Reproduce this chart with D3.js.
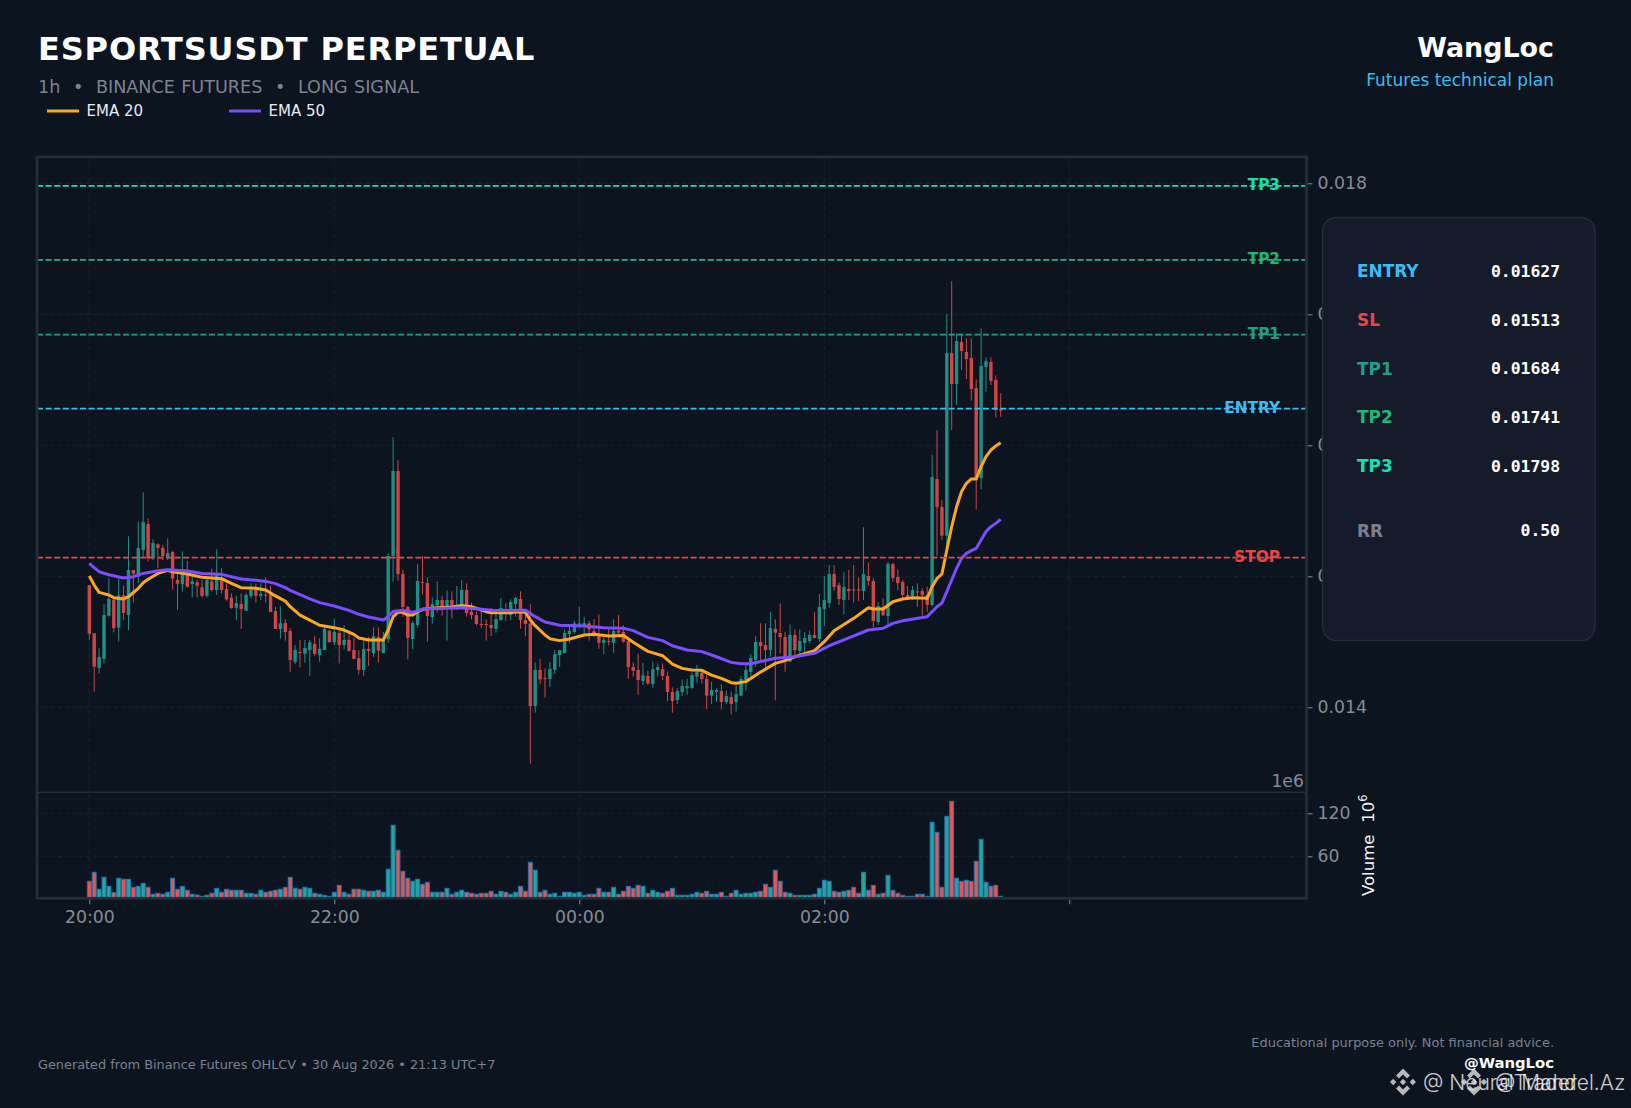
<!DOCTYPE html>
<html>
<head>
<meta charset="utf-8">
<style>
html, body { margin: 0; padding: 0; background: #0c1420; }
svg { display: block; }
text { font-family: "DejaVu Sans", sans-serif; }
</style>
<script src="https://cdn.jsdelivr.net/npm/d3@7"></script>
</head>
<body>
<div id="chart"></div>
<script>
// prices are in 1e-6 USDT, volumes in 1e6 contracts
const opens = [14933,14565,14300,14371,14699,14819,14608,14855,14704,15048,14997,15201,15399,15145,15244,15216,15145,15185,14972,14941,15010,14941,14954,14916,14852,14961,14895,14972,14903,14837,14760,14788,14737,14850,14908,14850,14860,14867,14735,14598,14643,14582,14346,14422,14409,14437,14483,14399,14437,14582,14496,14567,14475,14514,14437,14376,14285,14445,14414,14537,14414,14521,15155,15804,15017,14766,14521,14628,14956,14949,14689,14778,14819,14755,14819,14753,14781,14895,14730,14704,14636,14636,14628,14598,14666,14732,14704,14788,14827,14666,14641,14010,14285,14224,14216,14285,14399,14414,14559,14575,14620,14623,14641,14582,14552,14491,14506,14493,14585,14575,14506,14308,14285,14201,14239,14178,14285,14292,14239,14117,14056,14117,14145,14147,14234,14264,14216,14089,14117,14124,14040,14078,14040,14089,14206,14269,14361,14498,14475,14437,14598,14567,14537,14348,14552,14430,14491,14506,14552,14521,14750,14796,15017,14933,14819,14903,14900,14900,14888,15002,14964,14651,14766,14697,15094,14995,14956,14857,14850,14885,14888,14857,14781,15743,15529,15310,16704,16468,16788,16712,16666,16437,15750,16598,16636,16498,16274]
const highs = [14933,14565,14450,14786,14984,14844,14984,14928,15305,15048,15419,15641,15442,15282,15251,15239,15290,15193,15022,15190,15119,15010,14972,14972,14977,15058,15206,15061,14946,14870,14852,14870,14875,14946,14946,14946,14992,14928,14768,14773,14671,14603,14475,14514,14514,14514,14544,14526,14615,14590,14679,14595,14628,14590,14534,14437,14509,14539,14610,14610,14575,15175,16061,15888,15053,14773,14659,15094,15155,14992,14839,14961,14852,14893,14885,14926,14972,14946,14799,14730,14737,14671,14760,14743,14834,14793,14824,14844,14885,14730,14786,14343,14369,14297,14346,14437,14437,14595,14615,14659,14766,14692,14659,14674,14710,14539,14598,14671,14702,14626,14539,14343,14412,14338,14279,14351,14335,14335,14272,14152,14145,14213,14218,14264,14323,14285,14246,14196,14145,14175,14127,14119,14170,14239,14341,14407,14544,14641,14641,14727,14671,14793,14575,14633,14595,14595,14575,14585,14727,14865,15002,15086,15086,14954,15033,15048,15086,14992,15374,15106,14984,14801,14832,15109,15104,15053,14972,14926,14926,14946,14908,14921,15926,16117,15582,17002,17252,16855,16855,16816,16816,16503,16893,16671,16671,16534,16397]
const lows = [14514,14119,14259,14335,14692,14572,14501,14666,14590,14799,14946,15137,15112,15124,15061,15124,15124,14900,14743,14883,14913,14839,14839,14839,14839,14883,14857,14870,14814,14753,14666,14598,14735,14832,14799,14819,14799,14727,14598,14524,14509,14272,14330,14305,14341,14241,14391,14348,14437,14493,14475,14335,14442,14427,14366,14251,14241,14315,14386,14341,14414,14493,14959,14967,14692,14366,14445,14608,14860,14501,14638,14722,14699,14509,14677,14743,14748,14692,14671,14623,14603,14509,14544,14570,14661,14661,14666,14692,14600,14544,13570,13959,14178,14073,14157,14254,14310,14412,14488,14559,14603,14565,14509,14534,14447,14407,14473,14417,14539,14493,14218,14234,14096,14170,14170,14150,14234,14208,14048,13959,14025,14086,14094,14142,14188,14183,13984,14025,14043,13984,14025,13946,13967,14089,14127,14234,14310,14361,14305,14386,14053,14412,14272,14346,14399,14407,14407,14488,14526,14501,14620,14760,14890,14781,14710,14819,14799,14811,14819,14926,14608,14628,14697,14628,14956,14895,14824,14819,14819,14768,14699,14730,14768,15157,15277,15226,16117,16308,16575,16506,16341,15511,15666,16409,16460,16211,16218]
const closes = [14562,14310,14384,14704,14827,14605,14855,14720,15048,15020,15216,15414,15137,15254,15216,15155,15178,14982,14944,15022,14921,14961,14928,14850,14972,14895,15010,14895,14824,14758,14796,14750,14857,14895,14852,14865,14855,14727,14598,14641,14575,14361,14437,14417,14453,14496,14407,14447,14598,14498,14575,14475,14514,14430,14369,14285,14445,14430,14544,14432,14521,15155,15804,15017,14766,14529,14643,14964,14951,14697,14788,14819,14743,14819,14750,14781,14895,14720,14704,14636,14631,14631,14605,14674,14758,14722,14804,14834,14666,14636,14010,14285,14213,14218,14292,14407,14437,14567,14585,14641,14641,14643,14595,14552,14493,14514,14501,14582,14570,14501,14308,14279,14208,14244,14183,14290,14308,14239,14117,14048,14124,14162,14162,14246,14269,14216,14089,14132,14132,14040,14086,14025,14101,14216,14285,14376,14498,14468,14437,14605,14570,14537,14386,14552,14437,14506,14529,14552,14529,14766,14819,15017,14918,14827,14918,14888,14895,14895,15017,14964,14659,14773,14704,15094,14987,14949,14857,14834,14895,14880,14857,14781,15758,15529,15310,16704,16468,16796,16720,16659,16430,15743,16605,16643,16491,16269,16264]
const volumes = [25.1,37.7,14,30.7,18.1,9.3,29.3,27.9,27.9,16.7,18.1,22.3,16.7,7,8.4,7,9.8,29.3,14,18.1,12.6,7,6,4.2,5.6,8.4,15.3,9.8,14,12.6,12.6,12.6,8.4,8.4,7,12.6,9.8,11.2,12.6,14,16.7,30.7,15.3,14,16.7,15.3,8.4,7,5.6,4.2,9.8,19.5,9.8,7,14,14,12.6,11.2,11.2,12.6,9.8,41.9,103.3,68.4,39.1,29.3,25.1,27.9,20.9,23.7,9.8,9.8,9.8,15.3,7,9.8,12.6,9.8,8.4,7,8.4,8.4,11.2,7,11.2,9.8,7,9.8,18.1,11.2,51.6,40.5,9.8,12.6,7,8.4,4.2,9.8,9.8,8.4,9.8,5.6,7,7,15.3,9.8,9.8,16.7,7,11.2,18.1,15.3,19.5,18.1,8.4,12.6,9.8,8.4,11.2,15.3,5.6,5.6,5.6,7,9.8,8.4,11.2,7,7,9.8,4.2,8.4,12.6,7,8.4,8.4,9.8,11.2,20.9,16.7,40.5,25.1,9.8,8.4,5.6,5.6,5.6,5.6,7,15.3,26.5,25.1,11.2,9.8,11.2,12.6,16.7,8.4,37.7,12.6,19.5,7,8.4,33.5,12.6,8.4,5.6,4.2,4.2,7,7,4.2,107.4,93.5,16.7,115.8,136.7,29.3,25.1,26.5,25.1,53,83.7,23.7,18.1,19.5,4.2]

const ema20Bars = [0,1,2,4,5,7,8,10,11,12,14,16,17,20,23,27,29,31,34,36,38,40,41,43,45,47,50,52,54,55,57,60,61,62,63,64,65,66,67,68,71,74,76,78,81,82,86,87,89,90,91,93,94,96,98,101,103,106,109,111,114,117,119,121,123,125,127,129,131,132,134,137,140,142,144,148,150,152,156,159,160,162,164,166,168,171,172,173,174,175,176,177,178,179,180,181,182,183,184,185,186]
const ema20 = [15002,14933,14877,14857,14837,14827,14844,14908,14951,14977,15022,15045,15035,15017,14992,14982,14946,14913,14908,14895,14850,14811,14768,14704,14666,14626,14608,14590,14557,14529,14514,14514,14590,14692,14725,14725,14704,14704,14730,14748,14760,14766,14778,14768,14730,14722,14722,14730,14725,14666,14623,14552,14524,14509,14521,14552,14557,14544,14549,14496,14427,14394,14330,14297,14285,14282,14246,14221,14188,14183,14196,14269,14335,14356,14386,14432,14501,14585,14679,14760,14750,14750,14806,14827,14837,14832,14921,14984,15017,15201,15379,15531,15646,15710,15743,15743,15837,15913,15964,15995,16020]
const ema50Bars = [0,1,2,4,7,9,11,14,16,20,23,27,29,31,34,36,38,40,41,43,45,47,50,53,55,57,60,61,62,64,66,68,71,76,80,83,89,91,93,96,101,105,109,111,114,117,119,122,125,128,131,133,135,140,144,148,151,154,159,162,164,166,171,172,173,174,175,176,177,178,179,180,181,182,183,184,185,186]
const ema50 = [15099,15066,15035,15012,14987,14997,15022,15043,15050,15040,15022,15015,14997,14979,14969,14961,14944,14913,14893,14860,14827,14799,14773,14740,14710,14689,14666,14692,14732,14740,14725,14750,14755,14760,14748,14738,14740,14692,14651,14626,14620,14608,14603,14585,14534,14509,14470,14437,14425,14386,14343,14333,14333,14374,14386,14412,14470,14514,14590,14603,14641,14661,14692,14730,14768,14794,14883,14972,15061,15137,15175,15196,15213,15277,15341,15379,15404,15435]

const priceTicks = [0.014, 0.015, 0.016, 0.017, 0.018]
const volumeTicks = [60, 120]
const timeTicks = [0, 50, 100, 150, 200]
const timeLabels = ['20:00', '22:00', '00:00', '02:00', '']

const levelNames = ['TP3', 'TP2', 'TP1', 'ENTRY', 'STOP']
const levelPrices = [0.01798, 0.017415, 0.016845, 0.01628, 0.015143]
const levelColors = ['#14e2ad', '#22b573', '#1fa08f', '#3cbcf2', '#ef4444']

const planLabels = ['ENTRY', 'SL', 'TP1', 'TP2', 'TP3', 'RR']
const planValues = ['0.01627', '0.01513', '0.01684', '0.01741', '0.01798', '0.50']
const planColors = ['#3cbcf2', '#ef4444', '#1f9f8f', '#22b573', '#14e2ad', '#7d818d']
const planRows = [271, 320, 368.5, 417, 466, 530.5]

const UP = '#1e8f85'
const DOWN = '#cf4646'
const GRID = '#1b2230'
const SPINE = '#262c38'
const MUTED = '#868b96'

const width = 1631, height = 1108
const plotLeft = 37, plotRight = 1306.5, plotTop = 157, plotSplit = 792.3, plotBottom = 898.3

const svg = d3.select('#chart').append('svg')
    .attr('width', width)
    .attr('height', height)
svg.append('rect').attr('width', width).attr('height', height).attr('fill', '#0c1420')

const x = d3.scaleLinear().domain([0, 200]).range([89.3, 1069.3])
const y = d3.scaleLinear().domain([0.014, 0.018]).range([707.3, 183.3])
const yVol = d3.scaleLinear().domain([0, 120]).range([899.3, 813.3])
const price = v => y(v * 1e-6)
const bars = d3.range(opens.length)

svg.append('clipPath').attr('id', 'volClip').append('rect')
    .attr('x', plotLeft).attr('y', plotSplit).attr('width', plotRight - plotLeft).attr('height', plotBottom - plotSplit)

// grid
const grid = svg.append('g')
    .attr('fill', 'none')
    .attr('stroke', GRID)
    .attr('stroke-width', 1)
    .attr('stroke-dasharray', '4 3')
grid.selectAll('.gx').data(timeTicks).join('line')
    .attr('class', 'gx')
    .attr('x1', d => x(d)).attr('x2', d => x(d))
    .attr('y1', plotTop).attr('y2', plotBottom)
grid.selectAll('.gy').data(priceTicks).join('line')
    .attr('class', 'gy')
    .attr('x1', plotLeft).attr('x2', plotRight)
    .attr('y1', d => y(d)).attr('y2', d => y(d))
grid.selectAll('.gv').data(volumeTicks).join('line')
    .attr('class', 'gv')
    .attr('x1', plotLeft).attr('x2', plotRight)
    .attr('y1', d => yVol(d)).attr('y2', d => yVol(d))

// level lines with their labels on top
const levels = svg.append('g')
levels.selectAll('line').data(levelPrices).join('line')
    .attr('x1', plotLeft).attr('x2', plotRight)
    .attr('y1', d => y(d)).attr('y2', d => y(d))
    .attr('stroke', (d, i) => levelColors[i])
    .attr('stroke-width', 1.7)
    .attr('stroke-dasharray', '6 2.6')

// candles
const candles = svg.append('g')
candles.selectAll('.wick').data(bars).join('line')
    .attr('class', 'wick')
    .attr('x1', i => x(i)).attr('x2', i => x(i))
    .attr('y1', i => price(highs[i])).attr('y2', i => price(lows[i]))
    .attr('stroke', i => closes[i] >= opens[i] ? UP : DOWN)
    .attr('stroke-width', 1)
candles.selectAll('.body').data(bars).join('rect')
    .attr('class', 'body')
    .attr('x', i => x(i) - 1.7)
    .attr('width', 3.4)
    .attr('y', i => price(Math.max(opens[i], closes[i])))
    .attr('height', i => Math.max(1, Math.abs(price(opens[i]) - price(closes[i]))))
    .attr('fill', i => closes[i] >= opens[i] ? UP : DOWN)

// ema lines
const emaLine = d3.line().x(d => x(d[0])).y(d => price(d[1]))
const addEma = (idx, values, color) => svg.append('path')
    .attr('d', emaLine(idx.map((b, i) => [b, values[i]])))
    .attr('fill', 'none')
    .attr('stroke', color)
    .attr('stroke-width', 3)
    .attr('stroke-linejoin', 'round')
addEma(ema20Bars, ema20, '#fba725')
addEma(ema50Bars, ema50, '#7c4dff')

levels.raise()
levels.selectAll('text').data(levelNames).join('text')
    .attr('x', 1280)
    .attr('y', (d, i) => y(levelPrices[i]) - 1)
    .attr('dy', '0.36em')
    .attr('text-anchor', 'end')
    .attr('font-size', 15.3)
    .attr('font-weight', 'bold')
    .attr('fill', (d, i) => levelColors[i])
    .text(d => d)

// volume
svg.append('g').attr('clip-path', 'url(#volClip)')
    .selectAll('rect').data(bars).join('rect')
    .attr('x', i => x(i) - 1.96)
    .attr('width', 3.92)
    .attr('y', i => yVol(volumes[i]))
    .attr('height', i => yVol(0) - yVol(volumes[i]))
    .attr('fill', i => closes[i] >= opens[i] ? '#26a69a' : '#ef5350')
    .attr('stroke', '#1f77b4')
    .attr('stroke-width', 1)

// axes
const styleAxis = g => {
    g.select('.domain').remove()
    g.selectAll('line').attr('stroke', MUTED)
    g.selectAll('text').attr('fill', MUTED).attr('font-size', 17.3)
        .attr('font-family', '"DejaVu Sans", sans-serif')
}
svg.append('g').attr('transform', `translate(${plotRight},0)`)
    .call(d3.axisRight(y).tickValues(priceTicks).tickFormat(d3.format('.3f')).tickSize(6).tickPadding(5))
    .call(styleAxis)
svg.append('g').attr('transform', `translate(${plotRight},0)`)
    .call(d3.axisRight(yVol).tickValues(volumeTicks).tickFormat(d3.format('d')).tickSize(6).tickPadding(5))
    .call(styleAxis)
svg.append('g').attr('transform', `translate(0,${plotBottom})`)
    .call(d3.axisBottom(x).tickValues(timeTicks).tickFormat((d, i) => timeLabels[i]).tickSize(6).tickPadding(6))
    .call(styleAxis)

// frame
svg.append('rect')
    .attr('x', plotLeft).attr('y', plotTop)
    .attr('width', plotRight - plotLeft).attr('height', plotBottom - plotTop)
    .attr('fill', 'none')
    .attr('stroke', SPINE)
    .attr('stroke-width', 2.8)
svg.append('line')
    .attr('x1', plotLeft).attr('x2', plotRight)
    .attr('y1', plotSplit).attr('y2', plotSplit)
    .attr('stroke', SPINE)
    .attr('stroke-width', 1.4)

svg.append('text').attr('x', 1304).attr('y', 787)
    .attr('text-anchor', 'end').attr('font-size', 17.3).attr('fill', MUTED).text('1e6')
const volTitle = svg.append('text')
    .attr('transform', 'translate(1374,896) rotate(-90)')
    .attr('font-size', 16.5)
    .attr('fill', '#f2f4f7')
volTitle.append('tspan').text('Volume')
volTitle.append('tspan').attr('dx', 12).text('10')
volTitle.append('tspan').attr('dy', -7).attr('font-size', 11.5).text('6')

// header
svg.append('text').attr('x', 38).attr('y', 60)
    .attr('font-size', 32).attr('font-weight', 'bold').attr('fill', '#ffffff')
    .attr('letter-spacing', 0.85)
    .text('ESPORTSUSDT PERPETUAL')
svg.append('text').attr('x', 38).attr('y', 92.5)
    .attr('font-size', 17.6).attr('fill', '#7d8391')
    .attr('word-spacing', 0.7)
    .style('white-space', 'pre')
    .text('1h  •  BINANCE FUTURES  •  LONG SIGNAL')
svg.append('text').attr('x', 1554).attr('y', 56.5)
    .attr('text-anchor', 'end')
    .attr('font-size', 26.9).attr('font-weight', 'bold').attr('fill', '#ffffff')
    .text('WangLoc')
svg.append('text').attr('x', 1554).attr('y', 86)
    .attr('text-anchor', 'end')
    .attr('font-size', 17).attr('fill', '#3cbcf2')
    .text('Futures technical plan')

// legend
const legendX = [47, 229]
const legendNames = ['EMA 20', 'EMA 50']
const legendColors = ['#fba725', '#7c4dff']
const legend = svg.append('g').selectAll('g').data(legendNames).join('g')
legend.append('line')
    .attr('x1', (d, i) => legendX[i]).attr('x2', (d, i) => legendX[i] + 32)
    .attr('y1', 111).attr('y2', 111)
    .attr('stroke', (d, i) => legendColors[i])
    .attr('stroke-width', 3)
legend.append('text')
    .attr('x', (d, i) => legendX[i] + 39.5)
    .attr('y', 115.5)
    .attr('font-size', 15)
    .attr('fill', '#e8ebf0')
    .text(d => d)

// plan box
svg.append('rect')
    .attr('x', 1322.5).attr('y', 217.5)
    .attr('width', 272.5).attr('height', 423)
    .attr('rx', 14)
    .attr('fill', '#151b2a')
    .attr('stroke', '#262c38')
    .attr('stroke-width', 1.4)
const plan = svg.append('g')
plan.selectAll('.pl').data(planLabels).join('text')
    .attr('class', 'pl')
    .attr('x', 1357).attr('y', (d, i) => planRows[i]).attr('dy', '0.36em')
    .attr('font-size', 16.9).attr('font-weight', 'bold')
    .attr('fill', (d, i) => planColors[i])
    .text(d => d)
plan.selectAll('.pv').data(planValues).join('text')
    .attr('class', 'pv')
    .attr('x', 1560).attr('y', (d, i) => planRows[i]).attr('dy', '0.36em')
    .attr('text-anchor', 'end')
    .attr('font-size', 16.4).attr('font-weight', 'bold')
    .style('font-family', '"DejaVu Sans Mono", monospace')
    .attr('fill', '#ffffff')
    .text(d => d)

// footer
svg.append('text').attr('x', 38).attr('y', 1069)
    .attr('font-size', 12.85).attr('fill', '#7b8190')
    .text('Generated from Binance Futures OHLCV • 30 Aug 2026 • 21:13 UTC+7')
svg.append('text').attr('x', 1554).attr('y', 1047)
    .attr('text-anchor', 'end')
    .attr('font-size', 12.95).attr('fill', '#7b8190')
    .text('Educational purpose only. Not financial advice.')
svg.append('text').attr('x', 1554).attr('y', 1068)
    .attr('text-anchor', 'end')
    .attr('font-size', 14.8).attr('font-weight', 'bold')
    .attr('fill', '#ffffff')
    .text('@WangLoc')

// watermarks
const marks = [
    { logo: 1403, textX: 1423, label: '@ NeuralTrader' },
    { logo: 1474, textX: 1495, label: '@ Mandel.Az' }
]
const logoPath = 'M0 -13.5L7 -6.5L4 -3.5L0 -7.5L-4 -3.5L-7 -6.5Z M0 13.5L7 6.5L4 3.5L0 7.5L-4 3.5L-7 6.5Z M0 -3.2L3.2 0L0 3.2L-3.2 0Z M-9.8 -3.2L-6.6 0L-9.8 3.2L-13 0Z M9.8 -3.2L13 0L9.8 3.2L6.6 0Z'
const mark = svg.append('g').selectAll('g').data(marks).join('g')
    .attr('opacity', 0.78)
mark.append('path')
    .attr('transform', d => `translate(${d.logo},1082)`)
    .attr('d', logoPath)
    .attr('fill', '#e6e6e6')
mark.append('text')
    .attr('x', d => d.textX).attr('y', 1090)
    .attr('font-size', 21)
    .style('font-family', 'Inter, sans-serif')
    .style('font-weight', 300)
    .attr('fill', '#ffffff')
    .text(d => d.label)
</script>
</body>
</html>
